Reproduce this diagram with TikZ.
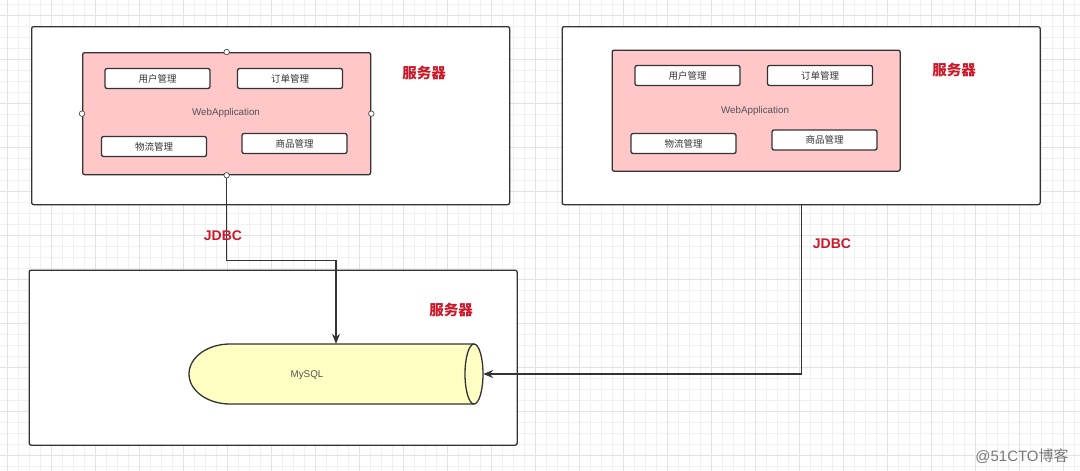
\documentclass[tikz,border=0pt]{standalone}
\usepackage{fontspec}
\setmainfont{Liberation Sans}
\newfontfamily\cjk{Noto Sans CJK SC}
\usetikzlibrary{arrows.meta}
\definecolor{gridminor}{RGB}{240,240,240}
\definecolor{gridmajor}{RGB}{226,226,226}
\definecolor{edge}{RGB}{51,51,51}
\definecolor{pinkfill}{RGB}{255,199,199}
\definecolor{dbfill}{RGB}{255,255,196}
\definecolor{redtxt}{RGB}{204,24,40}
\definecolor{marktxt}{RGB}{120,120,120}
\tikzset{
  server/.style={draw=edge, line width=1.3pt, rounded corners=2pt, fill=white, anchor=north west, inner sep=0pt},
  webapp/.style={draw=edge, line width=1.3pt, rounded corners=2pt, fill=pinkfill, anchor=north west, inner sep=0pt},
  module/.style={draw=edge, line width=1.3pt, rounded corners=2pt, fill=white, minimum width=105pt, minimum height=20pt, inner sep=0pt, font=\cjk\fontsize{9.5}{10}\selectfont, text=edge},
  port/.style={circle, draw=edge, fill=white, line width=0.6pt, minimum size=5.5pt, inner sep=0pt},
  servlabel/.style={font=\cjk\bfseries\fontsize{14.5}{15}\selectfont, text=redtxt},
  jdbc/.style={font=\bfseries\fontsize{14}{15}\selectfont, text=redtxt},
  applabel/.style={font=\fontsize{9.8}{10}\selectfont, text=edge!85},
  conn/.style={draw=edge, line width=1.2pt, -{Stealth[length=10pt,width=8pt]}},
}
\begin{document}
\begin{tikzpicture}[x=1pt,y=-1pt]
\useasboundingbox (0,0) rectangle (1080,471);
\fill[white] (0,0) rectangle (1080,471);
% grid
\foreach \i in {0,...,98} {
  \draw[gridminor, line width=0.5pt] ({7+11*\i-11},0) -- ({7+11*\i-11},471);
}
\foreach \j in {0,...,43} {
  \draw[gridminor, line width=0.5pt] (0,{4+11*\j}) -- (1080,{4+11*\j});
}
\foreach \i in {0,...,24} {
  \draw[gridmajor, line width=0.6pt] ({7+44*\i},0) -- ({7+44*\i},471);
}
\foreach \j in {0,...,10} {
  \draw[gridmajor, line width=0.6pt] (0,{15+44*\j}) -- (1080,{15+44*\j});
}

% left server
\node[server, minimum width=478pt, minimum height=178pt] (s1) at (31,26) {};
\node[webapp, minimum width=288pt, minimum height=122pt] (wa1) at (82,52) {};
\node[applabel] (wa1t) at (226,113) {WebApplication};
\node[module] (m11) at (157.5,78.5) {用户管理};
\node[module] (m12) at (290,78.5) {订单管理};
\node[module] (m13) at (154,146.5) {物流管理};
\node[module] (m14) at (294.5,143.5) {商品管理};
\node[servlabel] (l1) at (424,73) {服务器};
\node[port] (p1n) at (wa1.north) {};
\node[port] (p1w) at (wa1.west) {};
\node[port] (p1e) at (wa1.east) {};

% right server
\node[server, minimum width=478pt, minimum height=178pt] (s2) at (561.5,26) {};
\node[webapp, minimum width=288pt, minimum height=121pt] (wa2) at (611.5,49.5) {};
\node[applabel] (wa2t) at (755,110.5) {WebApplication};
\node[module] (m21) at (687.5,75.5) {用户管理};
\node[module] (m22) at (820,75.5) {订单管理};
\node[module] (m23) at (683.5,143.5) {物流管理};
\node[module] (m24) at (824.5,140) {商品管理};
\node[servlabel] (l2) at (954,69.5) {服务器};

% bottom server
\node[server, minimum width=488pt, minimum height=175pt] (s3) at (28.5,269.5) {};
\node[servlabel] (l3) at (451,310) {服务器};

% database cylinder
\node[minimum width=294pt, minimum height=60pt, inner sep=0pt] (db) at (336,374) {};
\fill[dbfill] (474,344) -- (230,344) arc[start angle=90, end angle=270, x radius=41pt, y radius=30pt] -- (474,404) -- cycle;
\draw[edge, line width=1.3pt] (474,344) -- (230,344) arc[start angle=90, end angle=270, x radius=41pt, y radius=30pt] -- (474,404);
\filldraw[fill=dbfill, draw=edge, line width=1.3pt] (474,374) ellipse[x radius=9pt, y radius=30pt];
\node[applabel] (dbt) at (307,375) {MySQL};

% connectors
\draw[conn] (wa1.south) -- ++(0,85) -| (db.north);
\node[port] (p1s) at (wa1.south) {};
\draw[conn] (s2.south) |- (db.east);
\node[jdbc] (j1) at (223,236) {JDBC};
\node[jdbc] (j2) at (832,244) {JDBC};

% watermark
\node[font=\fontsize{15}{16}\selectfont, text=marktxt] (wm) at (1022,456) {@51CTO{\cjk 博客}};
\end{tikzpicture}
\end{document}
